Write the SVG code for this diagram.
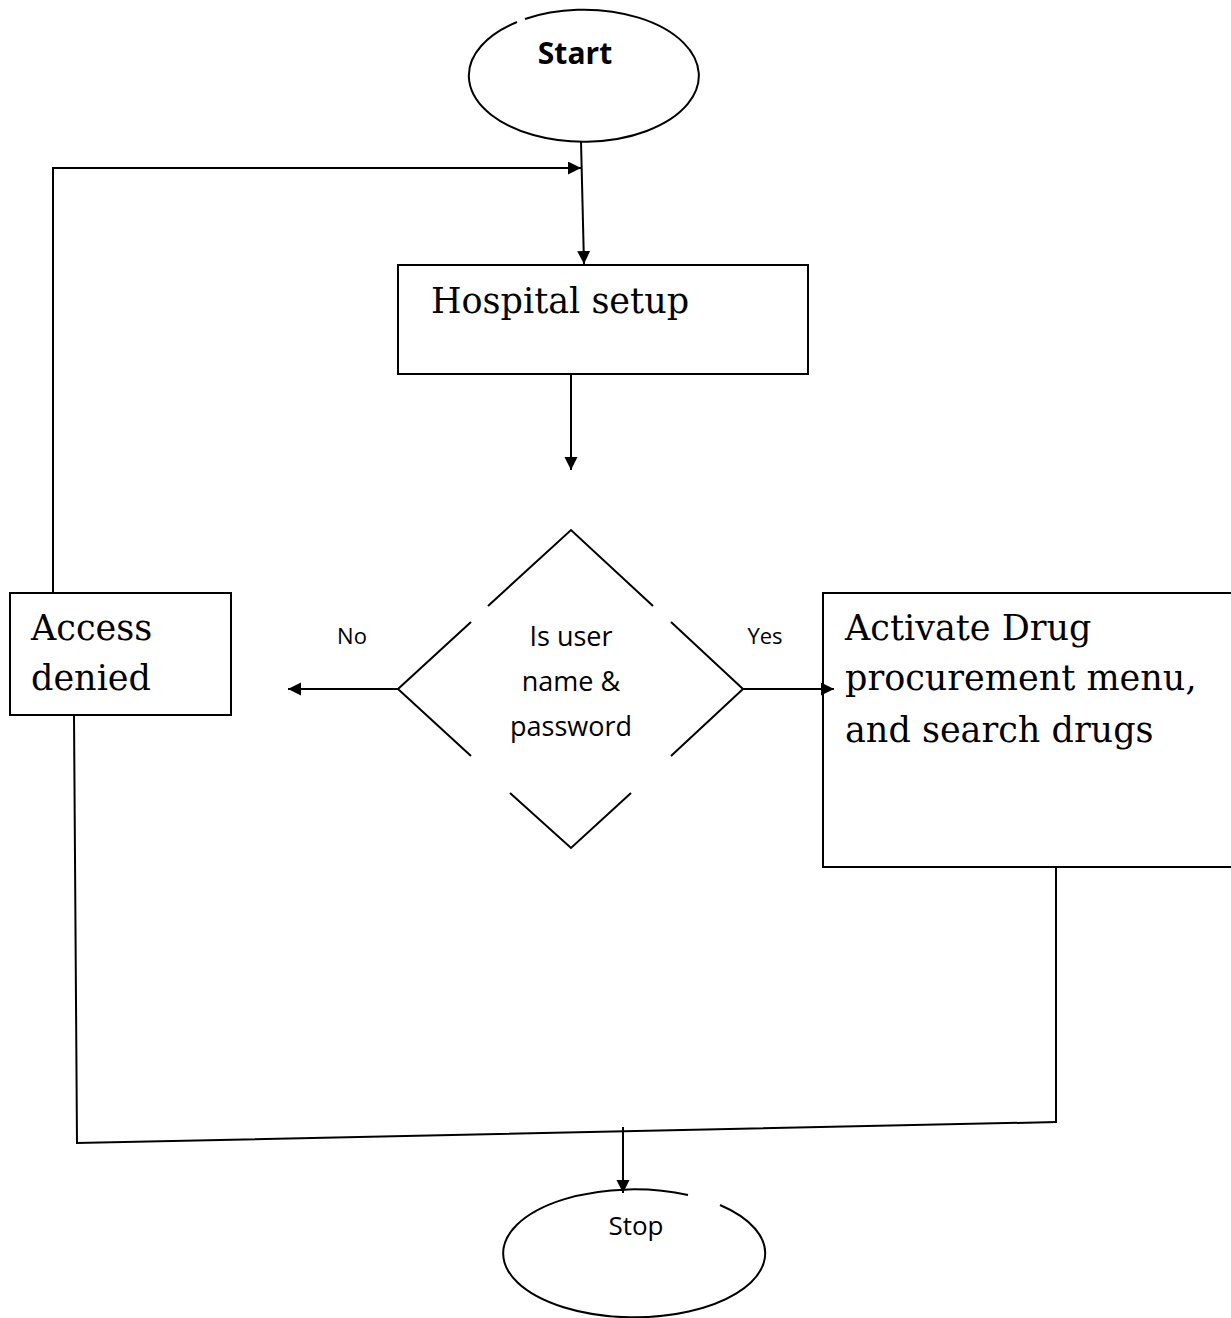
<svg xmlns="http://www.w3.org/2000/svg" width="1231" height="1318" viewBox="0 0 1231 1318">
<style>
.ln{fill:none;stroke:#000;stroke-width:2}
.box{fill:#fff;stroke:#000;stroke-width:2}
.serif{font-family:"DejaVu Serif","Liberation Serif",serif;font-size:35px;fill:#000}
.sans{font-family:"Open Sans","Liberation Sans",sans-serif;fill:#000}
</style>
<defs>
<marker id="ah" markerUnits="userSpaceOnUse" markerWidth="14" markerHeight="14" refX="13" refY="6.5" orient="auto">
<path d="M0,0 L13,6.5 L0,13 z" fill="#000"/>
</marker>
</defs>
<rect width="1231" height="1318" fill="#fff"/>
<g id="start">
<path class="ln" d="M525,19 A115,66 0 1 1 517,22"/>
<text class="sans" x="575" y="64" font-size="30" font-weight="bold" text-anchor="middle">Start</text>
</g>
<g id="hospital-setup">
<rect class="box" x="398" y="265" width="410" height="109"/>
<text class="serif" x="431" y="313" font-size="35.5">Hospital setup</text>
</g>
<g id="decision">
<path class="ln" d="M488,606 L571,530 L653,606 M671,622 L743,689 L671,756 M631,793 L571,848 L510,793 M471,756 L398,689 L471,622"/>
<text class="sans" font-size="27" text-anchor="middle"><tspan x="571" y="646">Is user</tspan><tspan x="571" y="691">name &amp;</tspan><tspan x="571" y="736">password</tspan></text>
</g>
<g id="access-denied">
<rect class="box" x="10" y="593" width="221" height="122"/>
<text class="serif"><tspan x="31" y="640">Access</tspan><tspan x="31" y="690">denied</tspan></text>
</g>
<g id="activate">
<rect class="box" x="823" y="593" width="420" height="274"/>
<text class="serif"><tspan x="845" y="640">Activate Drug</tspan><tspan x="845" y="690">procurement menu,</tspan><tspan x="845" y="742">and search drugs</tspan></text>
</g>
<g id="stop">
<path class="ln" d="M720,1205 A131,64 0 1 1 688,1195"/>
<text class="sans" x="636" y="1235" font-size="26" text-anchor="middle">Stop</text>
</g>
<g id="connectors">
<line class="ln" x1="581" y1="141" x2="584" y2="264" marker-end="url(#ah)"/>
<polyline class="ln" points="53,593 53,168 581,168" marker-end="url(#ah)"/>
<line class="ln" x1="571" y1="374" x2="571" y2="470" marker-end="url(#ah)"/>
<line class="ln" x1="398" y1="689" x2="288" y2="689" marker-end="url(#ah)"/>
<line class="ln" x1="743" y1="689" x2="834" y2="689" marker-end="url(#ah)"/>
<polyline class="ln" points="74,715 77,1143 1057,1122"/>
<line class="ln" x1="1056" y1="868" x2="1056" y2="1122"/>
<line class="ln" x1="623" y1="1127" x2="623" y2="1193" marker-end="url(#ah)"/>
<text class="sans" x="352" y="644" font-size="22" text-anchor="middle">No</text>
<text class="sans" x="765" y="644" font-size="22" text-anchor="middle">Yes</text>
</g>
</svg>
